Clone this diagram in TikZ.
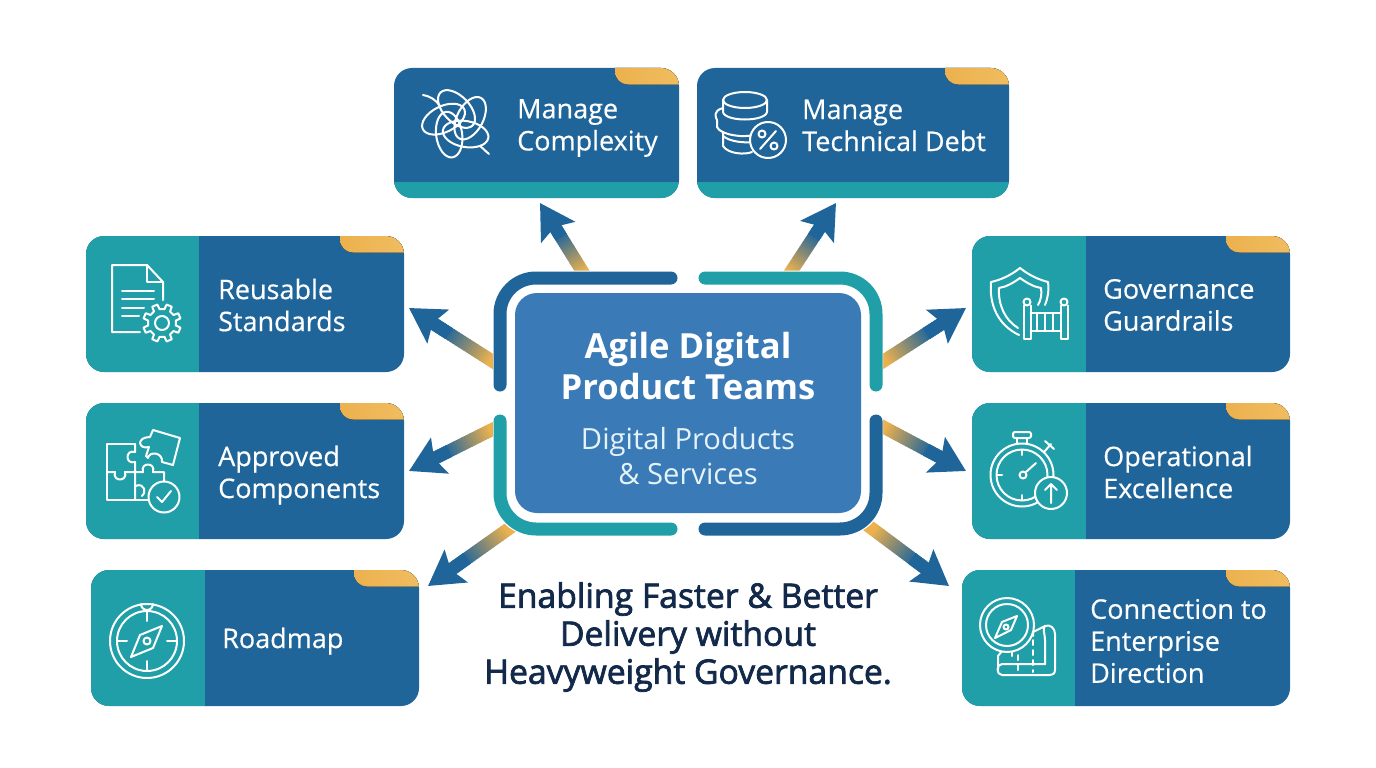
\documentclass[tikz,border=0pt]{standalone}
\usepackage{fontspec}
\setmainfont{Open Sans}
\newfontfamily\semifont[FakeBold=2.2]{Open Sans}
\newfontfamily\cardfont[FakeBold=0.4]{Open Sans}
\usetikzlibrary{arrows.meta,calc}

\definecolor{cardblue}{HTML}{20659A}
\definecolor{cardteal}{HTML}{209FA8}
\definecolor{hubblue}{HTML}{3A7AB6}
\definecolor{flowgold}{HTML}{EDB14E}
\definecolor{tabgold}{HTML}{F0C065}
\definecolor{navytext}{HTML}{12294A}
\definecolor{subtext}{HTML}{E4F3F8}

\pgfdeclarelayer{back}
\pgfsetlayers{back,main}

% card body: name, left, top, right, bottom, tab start, teal part
\newcommand{\infocard}[7]{%
  \node[cardbox, minimum width=(#4-#2)*1pt, minimum height=(#5-#3)*1pt] (#1) at ({(#2+#4)/2},{(#3+#5)/2}) {};
  \begin{scope}
    \clip[rounded corners=18pt] (#1.south west) rectangle (#1.north east);
    \fill[cardteal] #7;
    \fill[left color=flowgold, right color=tabgold, rounded corners=13pt] (#6,#3-20) rectangle (#4+20,#3+16.5);
  \end{scope}
}

% gold to blue shaft, blue head
\newcommand{\flowarrow}[2]{%
  \foreach \i in {0,...,29} {
    \pgfmathsetmacro\ta{\i/40}
    \pgfmathsetmacro\tb{\ta+0.03}
    \pgfmathsetmacro\mixgold{100*max(0,min(1,(0.64-\ta)/0.42))}
    \draw[flowshaft, draw=flowgold!\mixgold!cardblue] ($(#1)!\ta!(#2)$) -- ($(#1)!\tb!(#2)$);
  }
  \draw[flowshaft, draw=cardblue, -{Stealth[length=34pt, width=39pt, inset=6pt]}] ($(#1)!0.62!(#2)$) -- (#2);
}

\begin{document}
\begin{tikzpicture}[x=1pt, y=-1pt]

\tikzset{
  cardbox/.style={fill=cardblue, rounded corners=18pt, inner sep=0pt, outer sep=0pt},
  cardtext/.style={anchor=west, align=left, text=white, inner sep=0pt, font=\fontsize{27}{32}\selectfont\cardfont},
  hubbox/.style={fill=hubblue, rounded corners=22pt, minimum width=346pt, minimum height=220pt, inner sep=0pt, outer sep=0pt},
  hubhalo/.style={fill=white, rounded corners=40pt, minimum width=390pt, minimum height=265pt},
  bracket/.style={line width=13pt, line cap=round, rounded corners=36pt},
  flowshaft/.style={line width=13pt},
  icon/.style={draw=white, line width=2pt, line cap=round, line join=round}
}

\useasboundingbox (0,0) rectangle (1376,768);

% centre
\node[hubhalo] (halo) at (688,403) {};
\node[hubbox] (hub) at (688,403) {};
\draw[bracket, cardblue] (500,385) -- (500,278) -- (671,278);
\draw[bracket, cardteal] (705,278) -- (876,278) -- (876,385);
\draw[bracket, cardteal] (500,421) -- (500,529) -- (671,529);
\draw[bracket, cardblue] (705,529) -- (876,529) -- (876,421);
\node[align=center, text=white, font=\fontsize{34.6}{41}\selectfont\bfseries] (hubTitle) at (688,366) {Agile Digital\\Product Teams};
\node[align=center, text=subtext, font=\fontsize{29.2}{35}\selectfont] (hubSub) at (688,456) {Digital Products\\\& Services};

% top row
\infocard{mc}{394}{68}{679}{198}{615}{(394,182) rectangle (679,198)}
\infocard{td}{697}{68}{1009}{198}{945}{(697,182) rectangle (1009,198)}
\node[cardtext] (mcText) at (517,128) {Manage\\Complexity};
\node[cardtext] (tdText) at (802,125.5) {Manage\\Technical Debt};

% left column
\infocard{rs}{86}{236}{404}{372}{340}{(86,236) rectangle (199,372)}
\infocard{ac}{86}{403}{404}{539}{340}{(86,403) rectangle (199,539)}
\infocard{rm}{91}{570}{419}{706}{354}{(91,570) rectangle (205,706)}
\node[cardtext] (rsText) at (218,305) {Reusable\\Standards};
\node[cardtext] (acText) at (218,475) {Approved\\Components};
\node[cardtext] (rmText) at (222,641) {Roadmap};

% right column
\infocard{gg}{972}{236}{1290}{372}{1226}{(972,236) rectangle (1086,372)}
\infocard{oe}{972}{403}{1290}{539}{1226}{(972,403) rectangle (1086,539)}
\infocard{ce}{962}{570}{1290}{706}{1226}{(962,570) rectangle (1075,706)}
\node[cardtext] (ggText) at (1103,305) {Governance\\Guardrails};
\node[cardtext] (oeText) at (1103,472) {Operational\\Excellence};
\node[cardtext] (ceText) at (1090,641) {Connection to\\Enterprise\\Direction};

% caption
\node[align=center, text=navytext, font=\fontsize{33.7}{38}\selectfont\semifont] (caption) at (688,637) {Enabling Faster \& Better\\Delivery without\\Heavyweight Governance.};

% arrows
\coordinate (toMC) at ($(mc.south)+(3.5,5)$);
\coordinate (toTD) at ($(td.south)+(-17,5)$);
\coordinate (toRS) at ($(rs.east)+(5,4)$);
\coordinate (toAC) at ($(ac.east)+(5,0)$);
\coordinate (toRM) at ($(rm.north east)+(9,16)$);
\coordinate (toGG) at ($(gg.west)+(-6,4)$);
\coordinate (toOE) at ($(oe.west)+(-6,0)$);
\coordinate (toCE) at ($(ce.north west)+(-13,16)$);
\begin{pgfonlayer}{back}
  \flowarrow{hub.130}{toMC}
  \flowarrow{hub.51}{toTD}
  \flowarrow{hub.171}{toRS}
  \flowarrow{hub.185}{toAC}
  \flowarrow{hub.215}{toRM}
  \flowarrow{hub.9}{toGG}
  \flowarrow{hub.-4}{toOE}
  \flowarrow{hub.-34}{toCE}
\end{pgfonlayer}

% knot
\foreach \a in {20,92,164,236,308}
  \draw[icon, rotate around={\a:(457,123)}, rotate around={42:(471,123)}] (471,123) ellipse [x radius=23, y radius=13];
\draw[icon] (423,95) .. controls (430,96) and (436,100) .. (440,106);
\draw[icon] (480,146) .. controls (484,149) and (486,152) .. (489,154);

% coins
\draw[icon] (745,100) ellipse [x radius=22, y radius=8];
\draw[icon] (723,100) -- (723,112) .. controls (725,122) and (765,122) .. (767,112) -- (767,100);
\draw[icon] (723,108) .. controls (712,111) and (716,118) .. (717,120) -- (717,127) .. controls (720,135) and (745,138) .. (752,135);
\draw[icon] (723,132) -- (723,146) .. controls (728,154) and (745,155) .. (752,152);
\draw[icon] (723,136) .. controls (730,142) and (745,143) .. (752,142);
\draw[icon, fill=cardblue] (768,140) circle (18);
\draw[icon] (776,131) -- (760,149);
\draw[icon] (762,134) circle (3.5) (774,146) circle (3.5);

% document and gear
\draw[icon] (163,300) -- (163,282) -- (147,265) -- (112,265) -- (112,332) -- (140,332);
\draw[icon] (147,265) -- (147,282) -- (163,282);
\draw[icon] (122,291) -- (154,291) (122,299) -- (154,299) (122,308) -- (144,308) (122,316) -- (139,316);
\begin{scope}[shift={(162,323)}]
  \draw[icon, fill=cardteal] (10:14) \foreach \a in {0,45,...,315} { -- (\a+10:14) -- (\a+14:19) -- (\a+31:19) -- (\a+35:14) } -- cycle;
  \draw[icon] (0,0) circle (7);
\end{scope}

% puzzle
\draw[icon] (135,444) -- (107,444) -- (107,500) -- (164,500);
\draw[icon] (135,444) -- (135,452) .. controls (125,449) and (125,465) .. (135,462) -- (135,500);
\draw[icon] (107,472) -- (115,472) .. controls (112,482) and (128,482) .. (125,472) -- (143,472) .. controls (140,462) and (156,462) .. (153,472) -- (164,472) -- (164,484);
\draw[icon] (135,486) .. controls (146,482) and (146,494) .. (142,496);
\draw[icon] (153,430) -- (180,438) -- (173,465) -- (162,462) .. controls (163,452) and (149,451) .. (148,458) -- (146,456) -- (149,447) .. controls (138,450) and (136,437) .. (150,437) -- cycle;
\draw[icon, fill=cardteal] (164,497) circle (15.5);
\draw[icon] (157,497) -- (162,502) -- (171,491);

% shield and rail
\draw[icon] (1019,335) .. controls (998,325) and (989,305) .. (991,282) .. controls (1000,280) and (1010,276) .. (1020,268) .. controls (1030,276) and (1040,280) .. (1048,282) .. controls (1049,290) and (1048,298) .. (1045,305);
\draw[icon] (1018,328) .. controls (1005,320) and (998,305) .. (999,288) .. controls (1006,287) and (1013,283) .. (1020,278) .. controls (1027,283) and (1034,287) .. (1041,288) .. controls (1042,294) and (1041,300) .. (1038,305);
\foreach \x in {1027,1064} {
  \draw[icon] (\x,302) circle (3.5);
  \draw[icon] (\x-3.5,305.5) -- (\x-3.5,339) -- (\x+3.5,339) -- (\x+3.5,305.5);
}
\draw[icon] (1030.5,313) -- (1060.5,313) (1030.5,331) -- (1060.5,331);
\draw[icon] (1037,313) -- (1037,331) (1045,313) -- (1045,331) (1053,313) -- (1053,331);

% stopwatch
\draw[icon] (1022,475) circle (31.5);
\draw[icon] (1022,475) circle (25.5);
\draw[icon, rounded corners=2pt] (1013,432) rectangle (1031,438);
\draw[icon] (1017,438) -- (1017,444) (1027,438) -- (1027,444);
\draw[icon] (1044,452) -- (1051,444) (1045,441) -- (1054,449);
\draw[icon] (1022,450) -- (1022,455) (1022,495) -- (1022,500) (997,475) -- (1002,475);
\draw[icon] (1023,475) circle (3.5);
\draw[icon] (1026,472) -- (1036,463);
\draw[icon, fill=cardteal] (1051,493) circle (16);
\draw[icon] (1051,503) -- (1051,484) (1045,490) -- (1051,484) -- (1057,490);

% compass
\draw[icon] (147,641) circle (37);
\draw[icon] (147,641) circle (30);
\draw[icon] (141,604) arc (180:0:6);
\draw[icon] (147,611) -- (147,621) (147,661) -- (147,671) (117,641) -- (127,641) (167,641) -- (177,641);
\draw[icon] (162,626) -- (153,648) -- (131,657) -- (140,635) -- cycle;
\draw[icon] (147,641) circle (3.5);

% compass on map
\draw[icon] (1033,636) -- (1033,628) (1033,632) -- (1045,626) .. controls (1050,624) and (1055,628) .. (1055,634) -- (1055,670) .. controls (1055,674) and (1052,675) .. (1050,675) -- (1002,675) .. controls (996,675) and (996,664) .. (1002,664) -- (1045,664);
\draw[icon] (1045,626) .. controls (1042,628) and (1045,634) .. (1045,640) -- (1045,664);
\draw[icon] (998,670) -- (998,656) -- (1002,651);
\draw[icon] (1012,651) -- (1012,656);
\draw[icon, dashed, dash pattern=on 5pt off 5pt] (1033,640) -- (1033,672);
\draw[icon, dashed, dash pattern=on 5pt off 5pt] (1018,655) -- (1018,672);
\draw[icon, fill=cardteal] (1007,625) circle (27);
\draw[icon] (1007,625) circle (21);
\draw[icon] (1017,616) -- (1011,630) -- (995,638) -- (1002,622) -- cycle;
\draw[icon] (1006,627) circle (2.5);

\end{tikzpicture}
\end{document}
